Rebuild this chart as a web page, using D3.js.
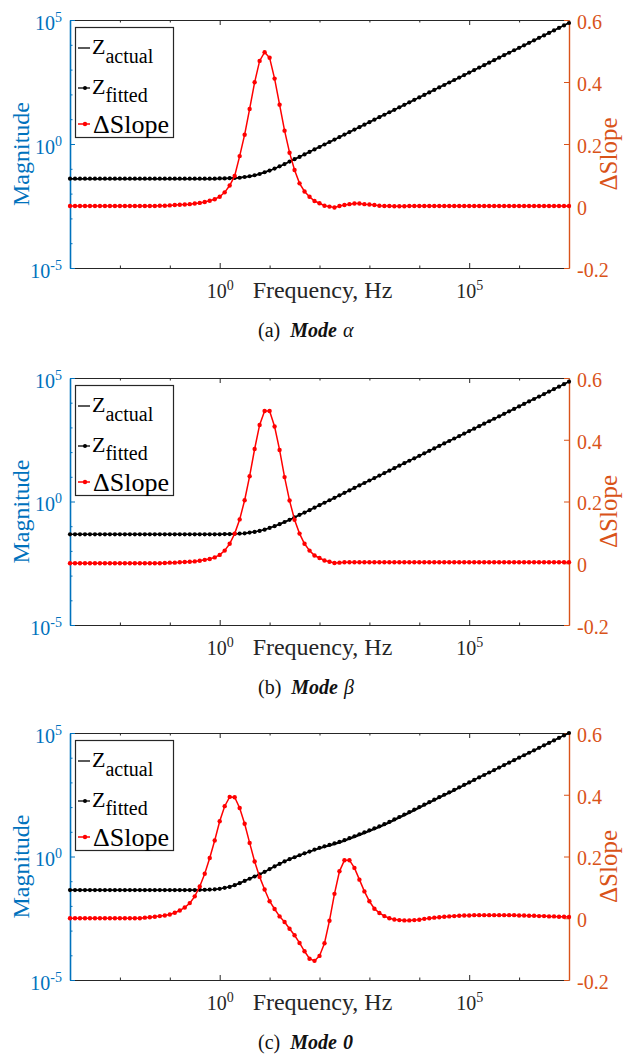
<!DOCTYPE html>
<html>
<head>
<meta charset="utf-8">
<script src="https://cdn.jsdelivr.net/npm/d3@7"></script>
</head>
<body style="margin:0">
<svg id="fig" width="624" height="1056" font-family="Liberation Serif"></svg>
<script>
// Frequency sweep: exponents of 10 (Hz), ten points per decade
const freqExp = [
  -3.0,-2.9,-2.8,-2.7,-2.6,-2.5,-2.4,-2.3,-2.2,-2.1,
  -2.0,-1.9,-1.8,-1.7,-1.6,-1.5,-1.4,-1.3,-1.2,-1.1,
  -1.0,-0.9,-0.8,-0.7,-0.6,-0.5,-0.4,-0.3,-0.2,-0.1,
   0.0, 0.1, 0.2, 0.3, 0.4, 0.5, 0.6, 0.7, 0.8, 0.9,
   1.0, 1.1, 1.2, 1.3, 1.4, 1.5, 1.6, 1.7, 1.8, 1.9,
   2.0, 2.1, 2.2, 2.3, 2.4, 2.5, 2.6, 2.7, 2.8, 2.9,
   3.0, 3.1, 3.2, 3.3, 3.4, 3.5, 3.6, 3.7, 3.8, 3.9,
   4.0, 4.1, 4.2, 4.3, 4.4, 4.5, 4.6, 4.7, 4.8, 4.9,
   5.0, 5.1, 5.2, 5.3, 5.4, 5.5, 5.6, 5.7, 5.8, 5.9,
   6.0, 6.1, 6.2, 6.3, 6.4, 6.5, 6.6, 6.7, 6.8, 6.9,
   7.0
];

// Mode alpha: log10 |Z| (fitted) and slope difference
const zFittedAlpha = [
  -1.40,-1.40,-1.40,-1.40,-1.40,-1.40,-1.40,-1.40,-1.40,-1.40,
  -1.40,-1.40,-1.40,-1.40,-1.40,-1.40,-1.40,-1.40,-1.40,-1.40,
  -1.40,-1.40,-1.40,-1.40,-1.40,-1.40,-1.40,-1.40,-1.40,-1.40,
  -1.39,-1.39,-1.38,-1.37,-1.36,-1.33,-1.30,-1.26,-1.21,-1.14,
  -1.07,-0.99,-0.90,-0.81,-0.71,-0.61,-0.52,-0.42,-0.32,-0.22,
  -0.12,-0.02, 0.08, 0.18, 0.28, 0.38, 0.48, 0.58, 0.68, 0.78,
   0.88, 0.98, 1.08, 1.18, 1.28, 1.38, 1.48, 1.58, 1.68, 1.78,
   1.88, 1.98, 2.08, 2.18, 2.28, 2.38, 2.48, 2.58, 2.68, 2.78,
   2.88, 2.98, 3.08, 3.18, 3.28, 3.38, 3.48, 3.58, 3.68, 3.78,
   3.88, 3.98, 4.08, 4.18, 4.28, 4.38, 4.48, 4.58, 4.68, 4.78,
   4.88
];
const zActualAlpha = zFittedAlpha;
const slopeAlpha = [
  0,0,0,0,0,0,0,0,0,0,
  0,0,0,0,0,0,0,0,0.001,0.001,
  0.002,0.003,0.004,0.005,0.006,0.008,0.010,0.013,0.017,0.022,
  0.030,0.044,0.066,0.097,0.161,0.230,0.313,0.399,0.468,0.496,
  0.478,0.411,0.327,0.243,0.172,0.116,0.073,0.047,0.030,0.016,
  0.009,0.001,-0.002,-0.005,0.000,0.003,0.006,0.008,0.008,0.006,
  0.005,0.003,0.001,0,0,-0.001,-0.001,-0.001,0,0,
  0,0,0,0,0,0,0,0,0,0,
  0,0,0,0,0,0,0,0,0,0,
  0,0,0,0,0,0,0,0,0,0,
  0
];

// Mode beta
const zFittedBeta = [
  -1.33,-1.33,-1.33,-1.33,-1.33,-1.33,-1.33,-1.33,-1.33,-1.33,
  -1.33,-1.33,-1.33,-1.33,-1.33,-1.33,-1.33,-1.33,-1.33,-1.33,
  -1.33,-1.33,-1.33,-1.33,-1.33,-1.33,-1.33,-1.33,-1.33,-1.33,
  -1.33,-1.32,-1.32,-1.31,-1.30,-1.29,-1.26,-1.23,-1.19,-1.14,
  -1.07,-1.00,-0.92,-0.83,-0.74,-0.64,-0.54,-0.45,-0.35,-0.25,
  -0.15,-0.05, 0.05, 0.15, 0.25, 0.35, 0.45, 0.55, 0.65, 0.75,
   0.85, 0.95, 1.05, 1.15, 1.25, 1.35, 1.45, 1.55, 1.65, 1.75,
   1.85, 1.95, 2.05, 2.15, 2.25, 2.35, 2.45, 2.55, 2.65, 2.75,
   2.85, 2.95, 3.05, 3.15, 3.25, 3.35, 3.45, 3.55, 3.65, 3.75,
   3.85, 3.95, 4.05, 4.15, 4.25, 4.35, 4.45, 4.55, 4.65, 4.75,
   4.85
];
const zActualBeta = zFittedBeta;
const slopeBeta = [
  0,0,0,0,0,0,0,0,0,0,
  0,0,0,0,0,0,0,0,0,0.001,
  0.002,0.002,0.003,0.004,0.005,0.006,0.008,0.011,0.014,0.019,
  0.027,0.041,0.063,0.096,0.142,0.204,0.282,0.370,0.448,0.493,
  0.493,0.443,0.367,0.279,0.203,0.141,0.096,0.063,0.041,0.025,
  0.017,0.009,0.005,0.001,0.002,0.003,0.003,0.003,0.003,0.003,
  0.003,0.003,0.003,0.003,0.003,0.003,0.003,0.003,0.003,0.003,
  0.003,0.003,0.003,0.003,0.003,0.003,0.003,0.003,0.003,0.003,
  0.003,0.003,0.003,0.003,0.003,0.003,0.003,0.003,0.003,0.003,
  0.003,0.003,0.003,0.003,0.003,0.003,0.003,0.003,0.003,0.003,
  0.003
];

// Mode 0
const zFittedZero = [
  -1.36,-1.36,-1.36,-1.36,-1.36,-1.36,-1.36,-1.36,-1.36,-1.36,
  -1.36,-1.36,-1.36,-1.36,-1.36,-1.36,-1.36,-1.36,-1.36,-1.36,
  -1.36,-1.36,-1.36,-1.36,-1.36,-1.36,-1.35,-1.35,-1.34,-1.33,
  -1.31,-1.27,-1.23,-1.16,-1.08,-0.99,-0.90,-0.81,-0.72,-0.62,
  -0.51,-0.40,-0.30,-0.20,-0.11,-0.03, 0.05, 0.13, 0.20, 0.28,
   0.35, 0.41, 0.47, 0.53, 0.59, 0.66, 0.74, 0.82, 0.90, 0.98,
   1.06, 1.14, 1.22, 1.31, 1.40, 1.50, 1.60, 1.70, 1.80, 1.90,
   2.00, 2.10, 2.20, 2.30, 2.40, 2.50, 2.60, 2.70, 2.80, 2.90,
   3.00, 3.10, 3.20, 3.30, 3.40, 3.50, 3.60, 3.70, 3.80, 3.90,
   4.00, 4.10, 4.20, 4.30, 4.40, 4.50, 4.60, 4.70, 4.80, 4.90,
   5.00
];
const zActualZero = [
  -1.36,-1.36,-1.36,-1.36,-1.36,-1.36,-1.36,-1.36,-1.36,-1.36,
  -1.36,-1.36,-1.36,-1.36,-1.36,-1.36,-1.36,-1.36,-1.36,-1.36,
  -1.36,-1.36,-1.36,-1.36,-1.36,-1.36,-1.35,-1.35,-1.34,-1.33,
  -1.31,-1.27,-1.23,-1.16,-1.08,-0.99,-0.90,-0.81,-0.72,-0.62,
  -0.51,-0.40,-0.30,-0.20,-0.11,-0.03, 0.05, 0.13, 0.19, 0.26,
   0.32, 0.38, 0.43, 0.49, 0.55, 0.62, 0.70, 0.78, 0.86, 0.94,
   1.02, 1.10, 1.18, 1.27, 1.36, 1.46, 1.56, 1.66, 1.76, 1.86,
   1.96, 2.07, 2.17, 2.27, 2.37, 2.47, 2.57, 2.67, 2.78, 2.88,
   2.98, 3.10, 3.20, 3.30, 3.40, 3.50, 3.60, 3.70, 3.80, 3.90,
   4.00, 4.10, 4.20, 4.30, 4.40, 4.50, 4.60, 4.70, 4.80, 4.90,
   5.00
];
const slopeZero = [
  0,0,0,0,0,0,0,0,0,0,
  0,0,0,0,0,0.002,0.003,0.005,0.007,0.009,
  0.012,0.018,0.025,0.035,0.049,0.071,0.103,0.144,0.195,0.252,
  0.314,0.363,0.393,0.392,0.357,0.306,0.244,0.184,0.134,0.093,
  0.055,0.030,0.006,-0.012,-0.034,-0.055,-0.080,-0.107,-0.131,-0.138,
  -0.122,-0.081,-0.008,0.079,0.152,0.188,0.188,0.163,0.125,0.087,
  0.055,0.031,0.017,0.007,0.000,-0.004,-0.006,-0.007,-0.007,-0.006,
  -0.005,-0.002,0.000,0.002,0.003,0.005,0.006,0.007,0.008,0.009,
  0.009,0.010,0.010,0.010,0.010,0.010,0.010,0.010,0.010,0.010,
  0.009,0.009,0.008,0.008,0.007,0.007,0.006,0.006,0.005,0.005,
  0.004
];

// Axis ticks and labels
const magTicks = [1e-5, 1e0, 1e5];
const magMinorTicks = [1e-4, 1e-3, 1e-2, 1e-1, 1e1, 1e2, 1e3, 1e4];
const freqTicks = [1e0, 1e5];
const freqMinorTicks = [1e-2, 1e-1, 1e1, 1e2, 1e3, 1e4, 1e6];
const slopeTicks = [-0.2, 0, 0.2, 0.4, 0.6];
const captionTags = ["(a)", "(b)", "(c)"];
const captionModes = ["\u03B1", "\u03B2", "0"];

const panels = [
  { actual: zActualAlpha, fitted: zFittedAlpha, slope: slopeAlpha },
  { actual: zActualBeta,  fitted: zFittedBeta,  slope: slopeBeta },
  { actual: zActualZero,  fitted: zFittedZero,  slope: slopeZero }
];

// Layout
const PLOT_L = 70, PLOT_R = 569;
const boxes = [
  { top: 20,  bottom: 268 },
  { top: 378, bottom: 625 },
  { top: 733, bottom: 980 }
];
const BLUE = "#0072BD", ORANGE = "#D95319", INK = "#262626";
const SERIF = "Liberation Serif";

const svg = d3.select("#fig");
const x = d3.scaleLog().domain([1e-3, 1e7]).range([PLOT_L, PLOT_R]);

// a text element already carrying the figure's serif face
function addText(parent) {
  return parent.append("text").attr("font-family", SERIF);
}

function styleAxis(sel, color, fontSize) {
  sel.attr("font-size", fontSize).attr("font-family", SERIF);
  sel.selectAll("path.domain").attr("stroke", color);
  sel.selectAll(".tick line").attr("stroke", color);
  sel.selectAll(".tick text").attr("fill", color).attr("font-family", SERIF);
}

function powerLabel(textSel) {
  textSel.each(function (d) {
    const t = d3.select(this);
    const e = Math.round(Math.log10(d));
    t.text(null);
    t.append("tspan").text("10");
    t.append("tspan").attr("font-size", 14).attr("dy", "-8").text(String(e));
  });
}

panels.forEach((p, k) => {
  const box = boxes[k];
  const g = svg.append("g").attr("font-family", SERIF);
  const yL = d3.scaleLog().domain([1e-5, 1e5]).range([box.bottom, box.top]);
  const yR = d3.scaleLinear().domain([-0.2, 0.6]).range([box.bottom, box.top]);

  // --- box: bottom and top frequency axes (ticks point inward)
  const bottomMinor = g.append("g").attr("transform", `translate(0,${box.bottom})`)
    .call(d3.axisBottom(x).tickValues(freqMinorTicks).tickSize(-2.5).tickFormat(""));
  bottomMinor.select("path.domain").remove();
  styleAxis(bottomMinor, INK, 20);

  const bottom = g.append("g").attr("transform", `translate(0,${box.bottom})`)
    .call(d3.axisBottom(x).tickValues(freqTicks).tickSize(-5).tickSizeOuter(0));
  styleAxis(bottom, INK, 20);
  bottom.selectAll(".tick text").attr("y", 30).attr("dy", 0).call(powerLabel);
  bottom.selectAll(".tick text").attr("fill", INK);

  const topMinor = g.append("g").attr("transform", `translate(0,${box.top})`)
    .call(d3.axisTop(x).tickValues(freqMinorTicks).tickSize(-2.5).tickFormat(""));
  topMinor.select("path.domain").remove();
  styleAxis(topMinor, INK, 20);
  const topAx = g.append("g").attr("transform", `translate(0,${box.top})`)
    .call(d3.axisTop(x).tickValues(freqTicks).tickSize(-5).tickSizeOuter(0).tickFormat(""));
  styleAxis(topAx, INK, 20);

  // --- left magnitude axis (blue)
  const leftMinor = g.append("g").attr("transform", `translate(${PLOT_L},0)`)
    .call(d3.axisLeft(yL).tickValues(magMinorTicks).tickSize(-2.5).tickFormat(""));
  leftMinor.select("path.domain").remove();
  styleAxis(leftMinor, BLUE, 20);
  const left = g.append("g").attr("transform", `translate(${PLOT_L},0)`)
    .call(d3.axisLeft(yL).tickValues(magTicks).tickSize(-5).tickSizeOuter(0).tickPadding(8));
  styleAxis(left, BLUE, 20);
  left.select("path.domain").attr("stroke-width", 1.6);
  left.selectAll(".tick text").attr("dy", "0.45em").call(powerLabel);

  // --- right slope axis (orange)
  const right = g.append("g").attr("transform", `translate(${PLOT_R},0)`)
    .call(d3.axisRight(yR).tickValues(slopeTicks).tickSize(-5).tickSizeOuter(0).tickPadding(8)
      .tickFormat(d => (d === 0 ? "0" : String(d))));
  styleAxis(right, ORANGE, 20);
  right.select("path.domain").attr("stroke-width", 1.4);
  right.selectAll(".tick text").attr("dy", "0.42em");

  // --- axis titles
  const midY = (box.top + box.bottom) / 2;
  addText(g)
    .attr("transform", `translate(29,${midY + 10}) rotate(-90)`)
    .attr("text-anchor", "middle").attr("font-size", 24).attr("fill", BLUE)
    .text("Magnitude");
  addText(g)
    .attr("transform", `translate(617,${midY + 10}) rotate(-90)`)
    .attr("text-anchor", "middle").attr("font-size", 25).attr("fill", ORANGE)
    .text("\u0394Slope");
  addText(g)
    .attr("x", (PLOT_L + PLOT_R) / 2 + 3).attr("y", box.bottom + 30)
    .attr("text-anchor", "middle").attr("font-size", 24).attr("fill", INK)
    .text("Frequency, Hz");

  // --- sub-caption
  const cap = addText(g).attr("x", 258).attr("y", box.bottom + 69)
    .attr("font-size", 20).attr("fill", "#111");
  cap.append("tspan").text(captionTags[k]);
  cap.append("tspan").attr("dx", 10).attr("font-weight", "bold").attr("font-style", "italic").text("Mode");
  cap.append("tspan").attr("dx", 6).attr("font-style", "italic")
    .attr("font-weight", k === 2 ? "bold" : "normal").text(captionModes[k]);

  // --- data series
  const pts = arr => arr.map((v, i) => ({ f: Math.pow(10, freqExp[i]), v }));
  const magLine = d3.line().x(d => x(d.f)).y(d => yL(Math.pow(10, d.v)));
  const slopeLine = d3.line().x(d => x(d.f)).y(d => yR(d.v));

  g.append("path").datum(pts(p.actual))
    .attr("d", magLine).attr("fill", "none").attr("stroke", "#000").attr("stroke-width", 1.4);
  g.append("path").datum(pts(p.fitted))
    .attr("d", magLine).attr("fill", "none").attr("stroke", "#000").attr("stroke-width", 1.4);
  g.append("g").selectAll("circle").data(pts(p.fitted)).join("circle")
    .attr("cx", d => x(d.f)).attr("cy", d => yL(Math.pow(10, d.v)))
    .attr("r", 2.1).attr("fill", "#000");

  g.append("path").datum(pts(p.slope))
    .attr("d", slopeLine).attr("fill", "none").attr("stroke", "#FF0000").attr("stroke-width", 1.5);
  g.append("g").selectAll("circle").data(pts(p.slope)).join("circle")
    .attr("cx", d => x(d.f)).attr("cy", d => yR(d.v))
    .attr("r", 2.2).attr("fill", "#FF0000");

  // --- legend
  const T = box.top;
  const lg = g.append("g");
  lg.append("rect").attr("x", 75.5).attr("y", T + 7.5).attr("width", 98).attr("height", 110)
    .attr("fill", "#fff").attr("stroke", INK).attr("stroke-width", 1.2);
  const rows = [
    { ly: T + 28, color: "#000", marker: false, base: T + 34 },
    { ly: T + 68, color: "#000", marker: true,  base: T + 74 },
    { ly: T + 104, color: "#FF0000", marker: true, base: T + 113 }
  ];
  rows.forEach((r, i) => {
    lg.append("line").attr("x1", 78).attr("x2", 90).attr("y1", r.ly).attr("y2", r.ly)
      .attr("stroke", r.color).attr("stroke-width", i === 2 ? 1.5 : 1.3);
    if (r.marker) {
      lg.append("circle").attr("cx", 85).attr("cy", r.ly).attr("r", i === 2 ? 2.2 : 2.0).attr("fill", r.color);
    }
  });
  const z1 = addText(lg).attr("x", 92).attr("y", rows[0].base).attr("fill", "#000");
  z1.append("tspan").attr("font-size", 22).text("Z");
  z1.append("tspan").attr("font-size", 20).attr("dy", 9).text("actual");
  const z2 = addText(lg).attr("x", 92).attr("y", rows[1].base).attr("fill", "#000");
  z2.append("tspan").attr("font-size", 22).text("Z");
  z2.append("tspan").attr("font-size", 20).attr("dy", 8).text("fitted");
  addText(lg).attr("x", 93).attr("y", rows[2].base).attr("font-size", 26).attr("fill", "#000")
    .text("\u0394Slope");
});
</script>
</body>
</html>
